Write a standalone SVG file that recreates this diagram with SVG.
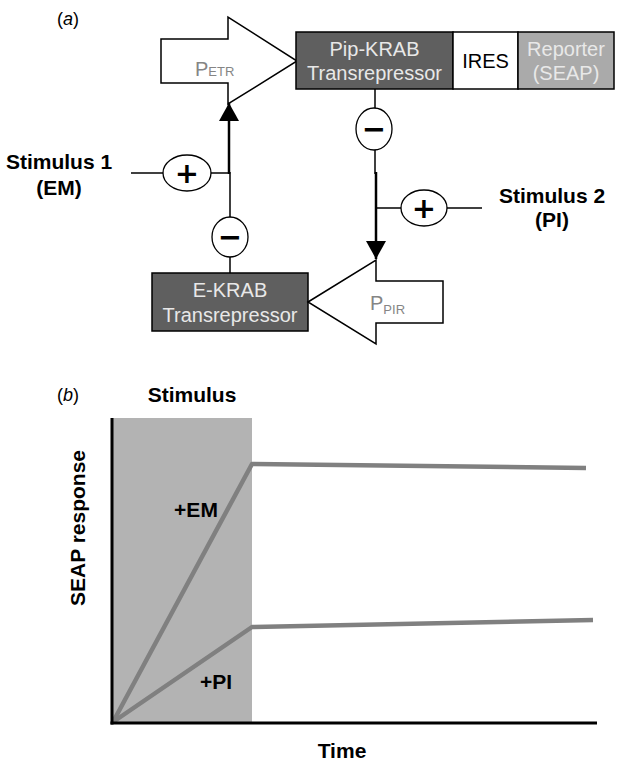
<svg xmlns="http://www.w3.org/2000/svg" width="640" height="763" viewBox="0 0 640 763">
  <style>
    text { font-family: "Liberation Sans", Arial, sans-serif; }
    .lbl { font-size: 18px; fill: #000; }
    .stim { font-size: 21px; font-weight: bold; fill: #000; text-anchor: middle; }
    .box { stroke: #000; stroke-width: 1.5; }
    .dark { fill: #5f5f5f; }
    .boxtxt { font-size: 20px; fill: #e8e8e8; text-anchor: middle; }
    .prom { fill: #fff; stroke: #000; stroke-width: 1.5; }
    .ptxt { fill: #858585; }
    .wire { stroke: #000; stroke-width: 1.5; fill: none; }
    .wire-b { stroke: #000; stroke-width: 2.5; fill: none; }
    .sign { fill: #fff; stroke: #000; stroke-width: 1.3; }
    .sym { font-family: "DejaVu Sans", sans-serif; font-size: 29px; font-weight: bold; text-anchor: middle; fill: #000; }
    .curve { stroke: #808080; stroke-width: 4.5; fill: none; stroke-linejoin: round; }
    .axis { stroke: #000; stroke-width: 3; fill: none; }
    .plot { font-size: 21px; font-weight: bold; fill: #000; }
  </style>
  <defs>
    <marker id="tip" viewBox="0 0 18 20" refX="18" refY="10" markerWidth="18" markerHeight="20" markerUnits="userSpaceOnUse" orient="auto">
      <path d="M0,0 L18,10 L0,20 Z" fill="#000"/>
    </marker>
  </defs>

  <!-- panel (a) -->
  <text class="lbl" x="57" y="25">(<tspan font-style="italic">a</tspan>)</text>

  <g id="connectors">
    <!-- stimulus 1 activation of P_ETR -->
    <line class="wire" x1="131" y1="173" x2="229" y2="173"/>
    <line class="wire-b" x1="229" y1="174" x2="229" y2="103" marker-end="url(#tip)"/>
    <!-- E-KRAB repression of P_ETR -->
    <line class="wire" x1="230" y1="172" x2="230" y2="273"/>
    <!-- Pip-KRAB repression of P_PIR -->
    <line class="wire" x1="375" y1="89" x2="375" y2="174"/>
    <line class="wire-b" x1="376" y1="172" x2="376" y2="259" marker-end="url(#tip)"/>
    <!-- stimulus 2 activation -->
    <line class="wire" x1="376" y1="208" x2="482" y2="208"/>
  </g>

  <g id="sign-em">
    <ellipse class="sign" cx="187" cy="173" rx="24" ry="18"/>
    <text class="sym" x="187" y="183">+</text>
  </g>
  <g id="sign-ekrab">
    <ellipse class="sign" cx="230" cy="237" rx="18" ry="20"/>
    <text class="sym" x="230" y="247">−</text>
  </g>
  <g id="sign-pipkrab">
    <ellipse class="sign" cx="374" cy="129" rx="18" ry="21"/>
    <text class="sym" x="374" y="139">−</text>
  </g>
  <g id="sign-pi">
    <ellipse class="sign" cx="424" cy="208" rx="23" ry="18"/>
    <text class="sym" x="424" y="218">+</text>
  </g>

  <g id="stimulus-1">
    <text class="stim" x="59" y="169">Stimulus 1</text>
    <text class="stim" x="59" y="195">(EM)</text>
  </g>
  <g id="stimulus-2">
    <text class="stim" x="552" y="203">Stimulus 2</text>
    <text class="stim" x="552" y="227">(PI)</text>
  </g>

  <g id="p-etr">
    <polygon class="prom" points="161,39 228,39 228,17 297,61 228,104 228,83 161,83"/>
    <text class="ptxt" x="195" y="76" font-size="20">P<tspan font-size="13">ETR</tspan></text>
  </g>

  <g id="pip-krab">
    <rect class="box dark" x="296" y="32" width="157" height="57"/>
    <text class="boxtxt" x="374.5" y="56">Pip-KRAB</text>
    <text class="boxtxt" x="374.5" y="80">Transrepressor</text>
  </g>
  <g id="ires">
    <rect class="box" fill="#fff" x="453" y="32" width="65" height="57"/>
    <text x="485.5" y="68" font-size="20" text-anchor="middle" fill="#000">IRES</text>
  </g>
  <g id="reporter">
    <rect class="box" fill="#aaaaaa" x="518" y="32" width="96" height="57"/>
    <text class="boxtxt" x="566" y="56" fill="#ececec">Reporter</text>
    <text class="boxtxt" x="566" y="80" fill="#ececec">(SEAP)</text>
  </g>

  <g id="e-krab">
    <rect class="box dark" x="152" y="273" width="156" height="58"/>
    <text class="boxtxt" x="230" y="297">E-KRAB</text>
    <text class="boxtxt" x="230" y="322">Transrepressor</text>
  </g>

  <g id="p-pir">
    <polygon class="prom" points="308,302 376,260 376,281 443,281 443,323 376,323 376,344"/>
    <text class="ptxt" x="370" y="310" font-size="20">P<tspan font-size="13" dy="4">PIR</tspan></text>
  </g>

  <!-- panel (b) -->
  <text class="lbl" x="57" y="401">(<tspan font-style="italic">b</tspan>)</text>
  <text class="plot" x="192" y="402" text-anchor="middle">Stimulus</text>

  <g id="chart">
    <rect x="112" y="418" width="140" height="305" fill="#b3b3b3"/>
    <polyline class="curve" points="113,722 252,464 586,468"/>
    <polyline class="curve" points="113,722 252,627 593,620"/>
    <line class="axis" x1="112" y1="418" x2="112" y2="724.5"/>
    <line class="axis" x1="110.5" y1="723" x2="597" y2="723"/>
    <text class="plot" x="196" y="517" text-anchor="middle">+EM</text>
    <text class="plot" x="216" y="689" text-anchor="middle">+PI</text>
    <text class="plot" x="342" y="758" text-anchor="middle">Time</text>
    <text class="plot" transform="translate(85,528) rotate(-90)" text-anchor="middle">SEAP response</text>
  </g>
</svg>
